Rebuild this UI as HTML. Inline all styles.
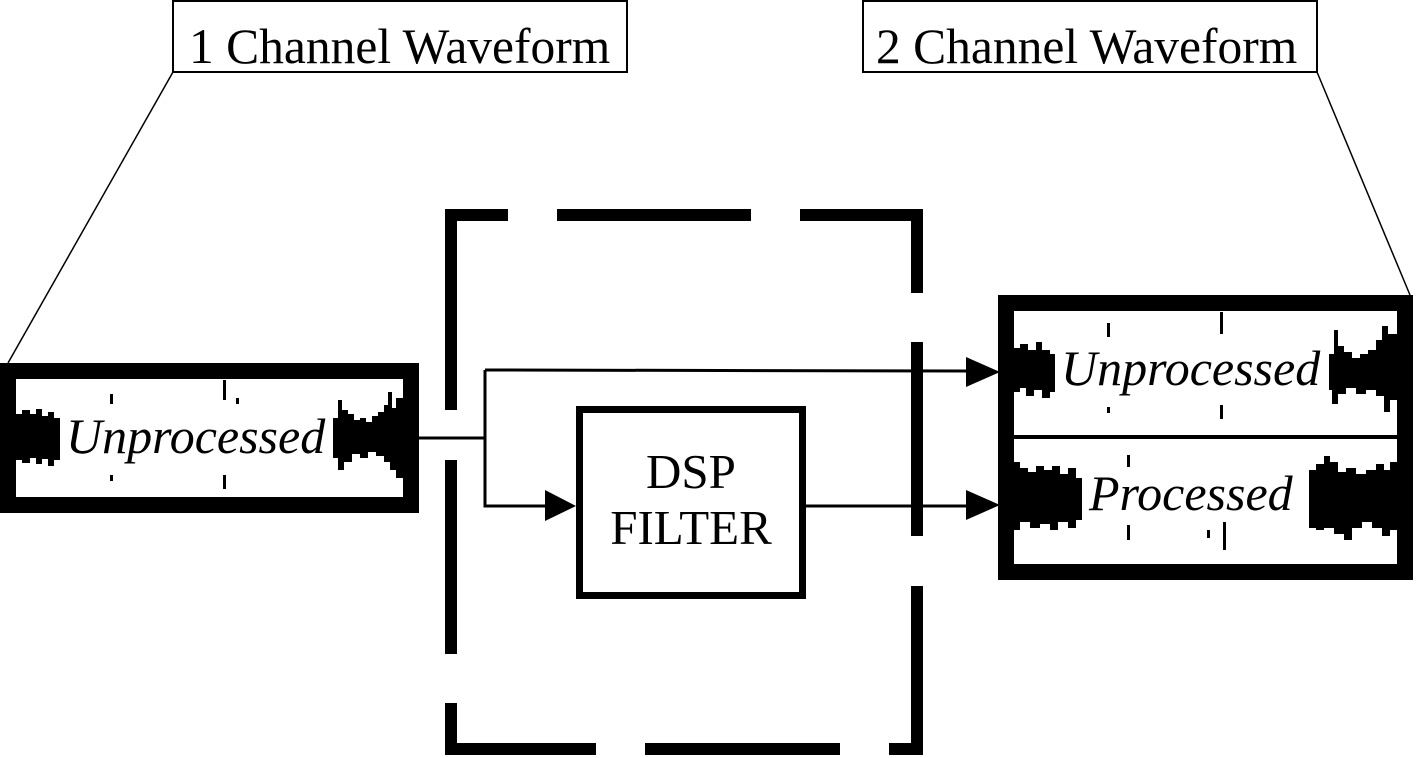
<!DOCTYPE html>
<html><head><meta charset="utf-8"><style>
html,body{margin:0;padding:0;background:#fff;}
svg{display:block;}
text{font-family:"Liberation Serif",serif;fill:#000;}
</style></head><body>
<svg width="1418" height="758" viewBox="0 0 1418 758" xmlns="http://www.w3.org/2000/svg">
<rect x="173" y="1" width="454" height="71" fill="#fff" stroke="#000" stroke-width="2"/>
<text x="189" y="63" font-size="49.5">1 Channel Waveform</text>
<line x1="173" y1="72" x2="8" y2="363" stroke="#000" stroke-width="1.5"/>
<rect x="863" y="1" width="454" height="71" fill="#fff" stroke="#000" stroke-width="2"/>
<text x="876" y="63" font-size="49.5">2 Channel Waveform</text>
<line x1="1317" y1="72" x2="1410" y2="295" stroke="#000" stroke-width="1.5"/>

<g fill="#000">
<rect x="445" y="209" width="63" height="12"/>
<rect x="557" y="209" width="194" height="12"/>
<rect x="800" y="209" width="123" height="12"/>
<rect x="445" y="209" width="12" height="201"/>
<rect x="445" y="460" width="12" height="194"/>
<rect x="445" y="703" width="12" height="52"/>
<rect x="445" y="743" width="151" height="12"/>
<rect x="645" y="743" width="195" height="12"/>
<rect x="889" y="743" width="34" height="12"/>
<rect x="911" y="209" width="12" height="84"/>
<rect x="911" y="342" width="12" height="194"/>
<rect x="911" y="586" width="12" height="169"/>
</g>

<g stroke="#000" stroke-width="3" fill="none">
<line x1="419" y1="438" x2="486" y2="438"/>
<polyline points="485,370 485,506 548,506"/>
<line x1="485" y1="370" x2="968" y2="371"/>
<line x1="806" y1="506" x2="968" y2="506"/>
</g>
<g fill="#000">
<polygon points="545,490 576,506 545,521"/>
<polygon points="966,357 1000,372 966,387"/>
<polygon points="966,490 1000,505 966,520"/>
</g>

<rect x="579.5" y="409.5" width="223" height="186" fill="#fff" stroke="#000" stroke-width="7"/>
<text x="691" y="488" font-size="49" text-anchor="middle">DSP</text>
<text x="691" y="544" font-size="49" text-anchor="middle">FILTER</text>

<rect x="8" y="371" width="403" height="134" fill="#fff" stroke="#000" stroke-width="16"/>
<g fill="#000">
<polygon points="16,414 22,414 22,410 30,410 30,414 36,414 36,409 42,409 42,416 48,416 48,412 54,412 54,418 60,418 60,460 54,460 54,466 48,466 48,459 42,459 42,464 36,464 36,458 30,458 30,463 22,463 22,460 16,460"/>
<polygon points="333,418 338,418 338,400 342,400 342,410 348,410 348,414 354,414 354,420 360,420 360,418 366,418 366,422 372,422 372,416 378,416 378,412 384,412 384,405 388,405 388,392 392,392 392,408 396,408 396,398 403,398 403,478 396,478 396,470 390,470 390,462 384,462 384,456 376,456 376,452 368,452 368,458 360,458 360,454 352,454 352,462 344,462 344,470 338,470 338,458 333,458"/>
<rect x="110" y="394" width="3" height="10"/><rect x="223" y="380" width="3" height="20"/><rect x="236" y="398" width="3" height="6"/>
<rect x="110" y="475" width="3" height="6"/><rect x="223" y="475" width="3" height="14"/>
</g>
<text x="66" y="453" font-size="50" font-style="italic">Unprocessed</text>

<rect x="1006" y="303" width="399" height="269" fill="#fff" stroke="#000" stroke-width="16"/>
<rect x="1014" y="435" width="383" height="4" fill="#000"/>
<g fill="#000">
<polygon points="1014,348 1020,348 1020,344 1028,344 1028,350 1036,350 1036,342 1042,342 1042,350 1050,350 1050,354 1055,354 1055,392 1050,392 1050,398 1042,398 1042,390 1034,390 1034,396 1026,396 1026,388 1020,388 1020,392 1014,392"/>
<polygon points="1329,354 1334,354 1334,330 1338,330 1338,346 1344,346 1344,352 1352,352 1352,358 1360,358 1360,354 1368,354 1368,350 1376,350 1376,340 1382,340 1382,326 1388,326 1388,334 1397,334 1397,400 1390,400 1390,412 1384,412 1384,396 1376,396 1376,390 1366,390 1366,394 1356,394 1356,388 1346,388 1346,394 1338,394 1338,404 1332,404 1332,390 1329,390"/>
<rect x="1107" y="323" width="3" height="14"/><rect x="1220" y="312" width="3" height="22"/><rect x="1107" y="407" width="3" height="6"/><rect x="1220" y="405" width="3" height="14"/>
<polygon points="1014,462 1020,462 1020,468 1028,468 1028,472 1036,472 1036,466 1044,466 1044,470 1052,470 1052,466 1060,466 1060,474 1068,474 1068,468 1076,468 1076,478 1082,478 1082,520 1076,520 1076,528 1068,528 1068,522 1058,522 1058,530 1050,530 1050,524 1040,524 1040,528 1030,528 1030,522 1020,522 1020,530 1014,530"/>
<polygon points="1309,470 1316,470 1316,464 1324,464 1324,456 1330,456 1330,462 1338,462 1338,472 1346,472 1346,468 1356,468 1356,474 1366,474 1366,470 1376,470 1376,464 1384,464 1384,470 1390,470 1390,462 1397,462 1397,530 1390,530 1390,536 1382,536 1382,528 1372,528 1372,522 1362,522 1362,528 1352,528 1352,540 1344,540 1344,534 1334,534 1334,528 1324,528 1324,530 1316,530 1316,528 1309,528"/>
<rect x="1127" y="455" width="3" height="12"/><rect x="1127" y="525" width="3" height="15"/><rect x="1223" y="522" width="3" height="28"/><rect x="1207" y="530" width="3" height="8"/>
</g>
<text x="1061" y="385" font-size="50" font-style="italic">Unprocessed</text>
<text x="1089" y="510" font-size="50" font-style="italic">Processed</text>
</svg>
</body></html>
